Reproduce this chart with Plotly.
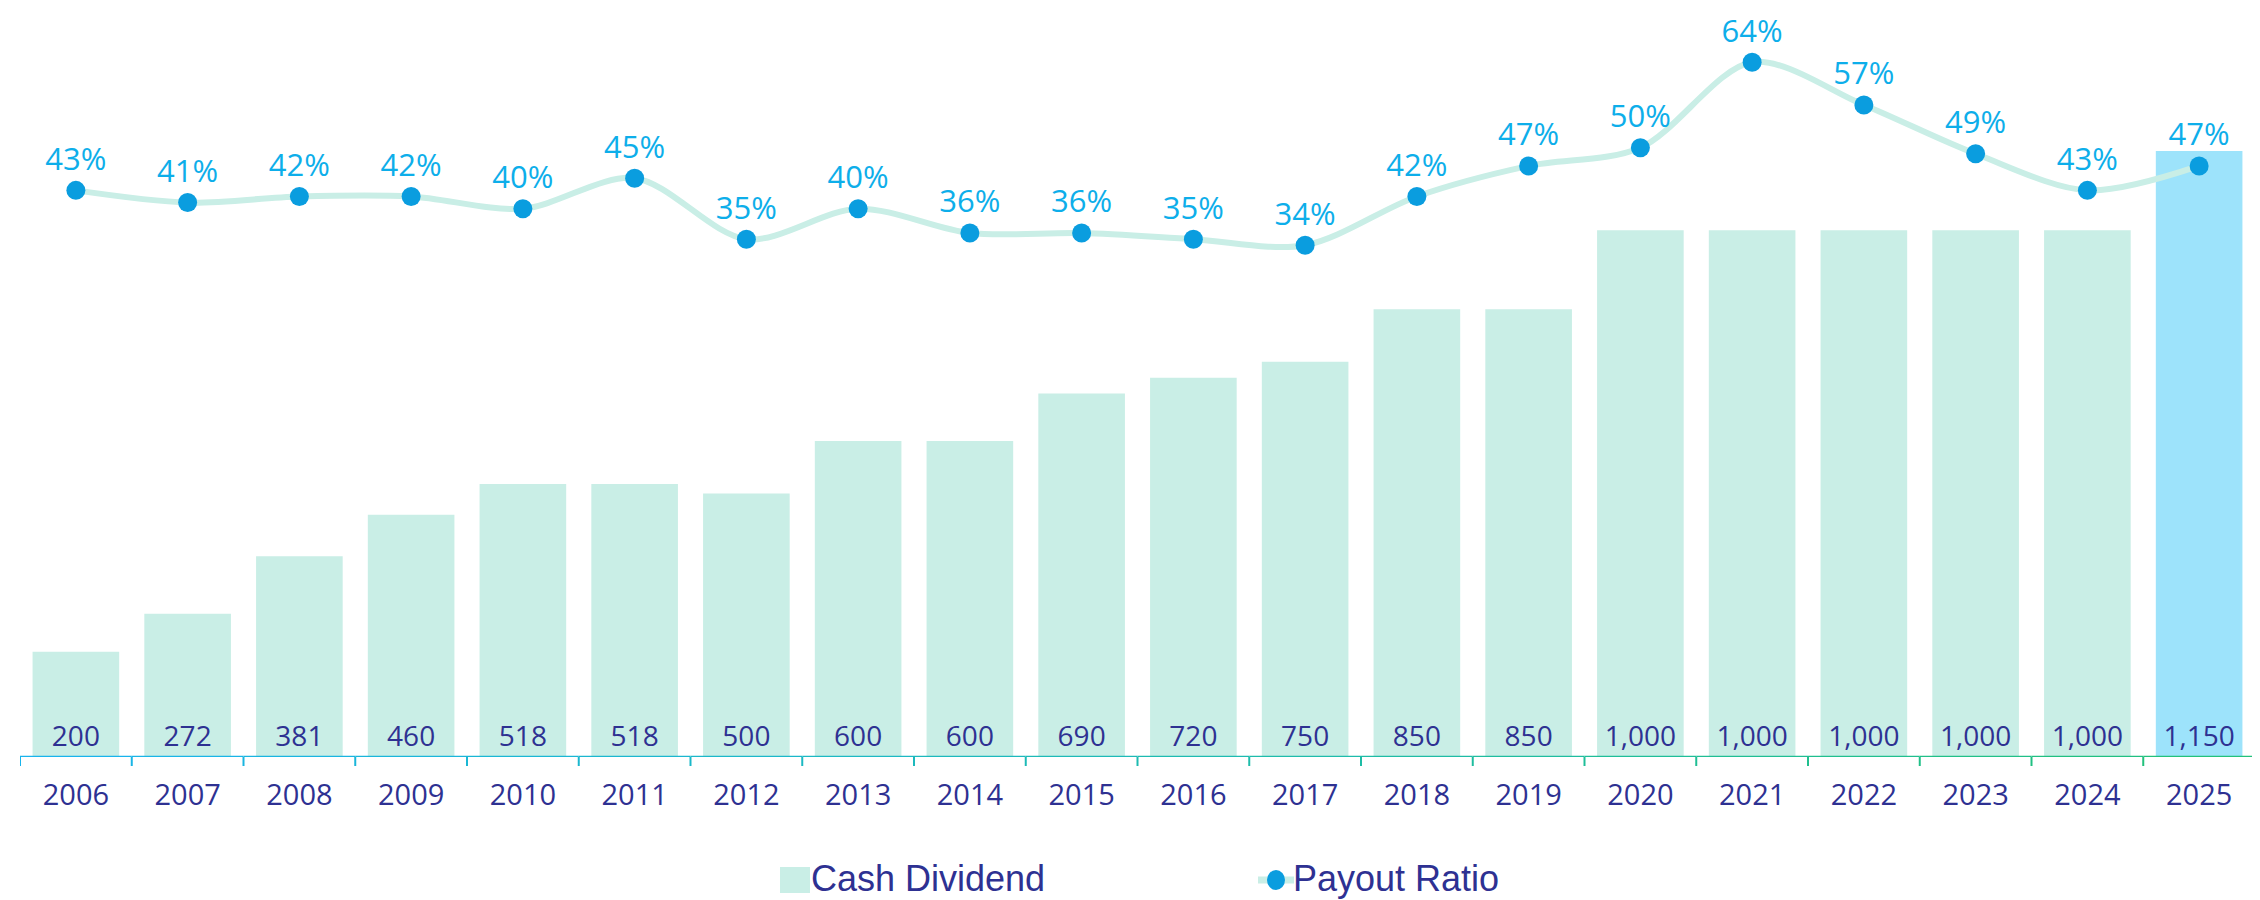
import plotly.graph_objects as go

years = [str(y) for y in range(2006, 2026)]
cash_dividend = [200, 272, 381, 460, 518, 518, 500, 600, 600, 690, 720, 750, 850, 850, 1000, 1000, 1000, 1000, 1000, 1150]
payout_ratio = [43, 41, 42, 42, 40, 45, 35, 40, 36, 36, 35, 34, 42, 47, 50, 64, 57, 49, 43, 47]
dividend_labels = [f"{v:,}" for v in cash_dividend]
ratio_labels = [f"{v}%" for v in payout_ratio]
legend_names = ["Cash Dividend", "Payout Ratio"]

NAVY = "#2e3192"
MINT = "#c9eee6"
HILITE = "#9de3fb"
DOT = "#0a9ddf"
PCT = "#0daeea"

W, H = 2260, 900
ML, MR, MT, MB = 12, 13, 0, 151
PW, PH = W - ML - MR, H - MT - MB


def px_x(px):
    return (px - ML) / PW


def px_y(py):
    return (H - MB - py) / PH


bar_colors = [MINT] * (len(years) - 1) + [HILITE]

fig = go.Figure()
fig.add_trace(go.Bar(
    x=years, y=cash_dividend, name=legend_names[0], showlegend=False,
    marker=dict(color=bar_colors, line=dict(width=0)),
    text=dividend_labels, textposition="inside", insidetextanchor="start",
    textangle=0, constraintext="none",
    insidetextfont=dict(family="Open Sans", size=28, color=NAVY),
))
fig.add_trace(go.Scatter(
    x=years, y=payout_ratio, name=legend_names[1], yaxis="y2", showlegend=False,
    mode="lines",
    line=dict(color=MINT, width=6, shape="spline", smoothing=0.9),
    hoverinfo="skip",
))
fig.add_trace(go.Scatter(
    x=years, y=payout_ratio, name=legend_names[1], yaxis="y2", showlegend=False,
    mode="markers+text",
    marker=dict(color=DOT, size=19),
    text=ratio_labels, textposition="top center",
    textfont=dict(family="Open Sans", size=31, color=PCT),
    cliponaxis=False,
))


# gradient x-axis baseline with boundary ticks
def mix(c1, c2, t):
    a = [int(c1[i:i + 2], 16) for i in (1, 3, 5)]
    b = [int(c2[i:i + 2], 16) for i in (1, 3, 5)]
    return "#%02x%02x%02x" % tuple(round(a[k] + (b[k] - a[k]) * t) for k in range(3))


c_left, c_right = "#18b4ec", "#22c17c"
n = len(years)
tick_len = 9 / PH
shapes = []
for i in range(n):
    col = mix(c_left, c_right, i / (n - 1))
    shapes.append(dict(type="line", xref="x", yref="y", x0=i - 0.5, x1=i + 0.5, y0=0, y1=0,
                       line=dict(color=col, width=2.5)))
    shapes.append(dict(type="line", xref="x", yref="paper", x0=i - 0.5, x1=i - 0.5, y0=0, y1=-tick_len,
                       line=dict(color=col, width=2)))
shapes.append(dict(type="line", xref="x", yref="paper", x0=n - 0.5, x1=n - 0.5, y0=0, y1=-tick_len,
                   line=dict(color=c_right, width=2)))

# manual legend
shapes.append(dict(type="rect", xref="paper", yref="paper",
                   x0=px_x(772), x1=px_x(802), y0=px_y(885), y1=px_y(859),
                   fillcolor=MINT, line=dict(width=0)))
shapes.append(dict(type="line", xref="paper", yref="paper",
                   x0=px_x(1250), x1=px_x(1286), y0=px_y(872), y1=px_y(872),
                   line=dict(color=MINT, width=7)))
shapes.append(dict(type="circle", xref="paper", yref="paper",
                   x0=px_x(1259), x1=px_x(1277), y0=px_y(882), y1=px_y(862),
                   fillcolor=DOT, line=dict(width=0)))
annotations = [
    dict(text=legend_names[0], xref="paper", yref="paper", x=px_x(801), y=px_y(870),
         xanchor="left", yanchor="middle", showarrow=False,
         font=dict(family="Liberation Sans", size=36, color=NAVY)),
    dict(text=legend_names[1], xref="paper", yref="paper", x=px_x(1283), y=px_y(870),
         xanchor="left", yanchor="middle", showarrow=False,
         font=dict(family="Liberation Sans", size=36, color=NAVY)),
]

fig.update_layout(
    width=W, height=H,
    margin=dict(l=ML, r=MR, t=MT, b=MB),
    paper_bgcolor="white", plot_bgcolor="white",
    bargap=0.225,
    showlegend=False,
    xaxis=dict(type="category", range=[-0.5, n - 0.5], showgrid=False, zeroline=False,
               showline=False, ticks="outside", ticklen=8, tickcolor="rgba(0,0,0,0)",
               ticklabelstandoff=4, automargin=False,
               tickfont=dict(family="Open Sans", size=29, color=NAVY)),
    yaxis=dict(range=[0, 1421.6], showgrid=False, zeroline=False, showticklabels=False),
    yaxis2=dict(range=[-49.9, 72.9], overlaying="y", showgrid=False, zeroline=False,
                showticklabels=False),
    shapes=shapes,
    annotations=annotations,
)

fig.write_html("out.html")
